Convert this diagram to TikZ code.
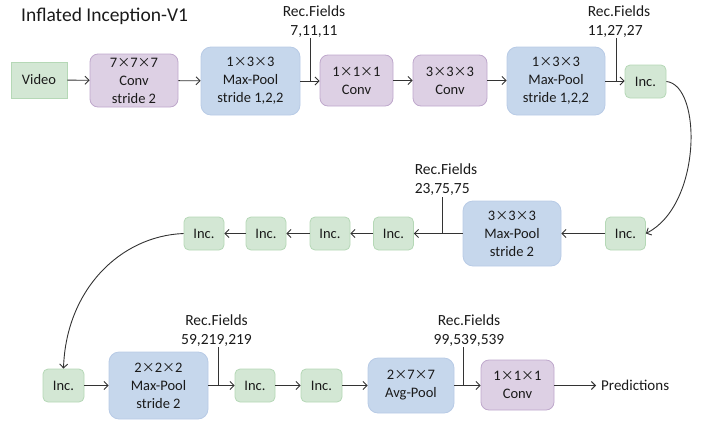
\documentclass[tikz,border=0pt]{standalone}
\usepackage{fontspec}
\setmainfont{Carlito}
\newfontfamily\cjk{Noto Sans CJK SC}
\usetikzlibrary{arrows.meta}
\definecolor{gfill}{HTML}{D3E7D4}
\definecolor{gdraw}{HTML}{B5D8B6}
\definecolor{bfill}{HTML}{C6D7EC}
\definecolor{bdraw}{HTML}{B8CBE6}
\definecolor{pfill}{HTML}{DDD0E4}
\definecolor{pdraw}{HTML}{BFA8CC}
\definecolor{txt}{HTML}{1A1A1A}
\definecolor{ln}{HTML}{333333}
\newcommand{\tms}{{\cjk\fontsize{13}{13}\selectfont ×}}
\begin{document}
\begin{tikzpicture}[x=1pt,y=-1pt,
  box/.style={align=center, inner sep=0pt, line width=0.8pt, text=txt,
    font=\fontsize{14.5}{18}\selectfont},
  inc/.style={box, fill=gfill, draw=gdraw, rounded corners=5pt,
    minimum width=41pt, minimum height=33pt},
  pool/.style={box, fill=bfill, draw=bdraw, rounded corners=10pt,
    minimum width=99pt, minimum height=67pt},
  conv/.style={box, fill=pfill, draw=pdraw, rounded corners=8pt,
    minimum width=73pt, minimum height=51pt},
  rec/.style={inner sep=0pt, text=txt, font=\fontsize{15.5}{19}\selectfont},
  arr/.style={draw=ln, line width=0.9pt, -{Straight Barb[length=4pt,width=8pt]}},
  ln/.style={draw=ln, line width=0.9pt},
]
\useasboundingbox (0,0) rectangle (701,426);

% title
\node[anchor=west, inner sep=0pt, text=txt, font=\fontsize{19.5}{22}\selectfont] (title) at (21,16) {Inflated Inception-V1};

% ---------- row 1 ----------
\node[box, fill=gfill, draw=gdraw, minimum width=56pt, minimum height=36pt] (video) at (39,80) {Video};
\node[conv, minimum width=88pt, minimum height=53pt] (c7) at (134,80.5) {7\tms7\tms7\\Conv\\stride 2};
\node[pool, minimum height=68pt] (mp1) at (250.5,81) {1\tms3\tms3\\Max-Pool\\stride 1,2,2};
\node[conv] (c1) at (356.5,80.5) {1\tms1\tms1\\Conv};
\node[conv, minimum width=74pt] (c3) at (450,80.5) {3\tms3\tms3\\Conv};
\node[pool, minimum width=98pt, minimum height=68pt] (mp2) at (556,81) {1\tms3\tms3\\Max-Pool\\stride 1,2,2};
\node[inc] (i1) at (645.5,81.5) {Inc.};

\node[rec, align=center] (r1) at (314,21.5) {Rec.Fields\\7,11,11};
\node[rec, align=left] (r2) at (619,21.5) {Rec.Fields\\11,27,27};
\coordinate (j1) at (310,81);
\coordinate (j2) at (616,81);

\draw[arr] (video) -- (c7);
\draw[arr] (c7) -- (mp1);
\draw[arr] (mp1.east |- j1) -- (c1.west |- j1);
\draw[arr] (c1) -- (c3);
\draw[arr] (c3) -- (c3 -| mp2.west);
\draw[arr] (mp2.east |- j2) -- (i1.west |- j2);
\draw[ln] (j1 |- 0,38) -- (j1);
\draw[ln] (j2 |- 0,38) -- (j2);

% ---------- row 2 ----------
\node[inc, minimum width=40pt] (i2) at (625.5,233.5) {Inc.};
\node[pool, minimum width=98pt, minimum height=65pt] (mp3) at (512,233.5) {3\tms3\tms3\\Max-Pool\\stride 2};
\node[inc, minimum width=40pt] (i3) at (393.5,233.5) {Inc.};
\node[inc, minimum width=40pt] (i4) at (330,233.5) {Inc.};
\node[inc, minimum width=40pt] (i5) at (266,233.5) {Inc.};
\node[inc, minimum width=40pt] (i6) at (204,233.5) {Inc.};
\node[rec, align=left] (r3) at (446,179.5) {Rec.Fields\\23,75,75};
\coordinate (j3) at (442,233.5);

\draw[arr] (i1.east) .. controls (702,85) and (702,205) .. (i2.east);
\draw[arr] (i2) -- (mp3);
\draw[arr] (mp3) -- (i3);
\draw[ln] (j3 |- 0,197) -- (j3);
\draw[arr] (i3) -- (i4);
\draw[arr] (i4) -- (i5);
\draw[arr] (i5) -- (i6);

% ---------- row 3 ----------
\node[inc] (i7) at (63.5,385.5) {Inc.};
\node[pool, minimum height=67pt] (mp4) at (158.5,385.5) {2\tms2\tms2\\Max-Pool\\stride 2};
\node[inc, minimum width=40pt] (i8) at (255,385.5) {Inc.};
\node[inc] (i9) at (321.5,385.5) {Inc.};
\node[pool, minimum width=86pt, minimum height=55pt] (ap) at (411,385.5) {2\tms7\tms7\\Avg-Pool};
\node[conv, minimum height=50pt] (c9) at (517.5,385) {1\tms1\tms1\\Conv};
\node[inner sep=0pt, anchor=west, text=txt, font=\fontsize{15}{17}\selectfont] (pred) at (601,385.5) {Predictions};
\node[rec, align=center] (r4) at (216.5,330.5) {Rec.Fields\\59,219,219};
\node[rec, align=center] (r5) at (469,330.5) {Rec.Fields\\99,539,539};
\coordinate (j4) at (218,385.5);
\coordinate (j5) at (463,385.5);

\draw[arr] (i6.west) .. controls (120,236) and (66,290) .. (i7.north);
\draw[arr] (i7) -- (mp4);
\draw[arr] (mp4) -- (i8);
\draw[ln] (j4 |- 0,347) -- (j4);
\draw[arr] (i8) -- (i9);
\draw[arr] (i9) -- (ap);
\draw[arr] (ap) -- (ap -| c9.west);
\draw[ln] (j5 |- 0,347) -- (j5);
\draw[arr] (c9.east |- pred) -- ([xshift=-5pt]pred.west);
\end{tikzpicture}
\end{document}
